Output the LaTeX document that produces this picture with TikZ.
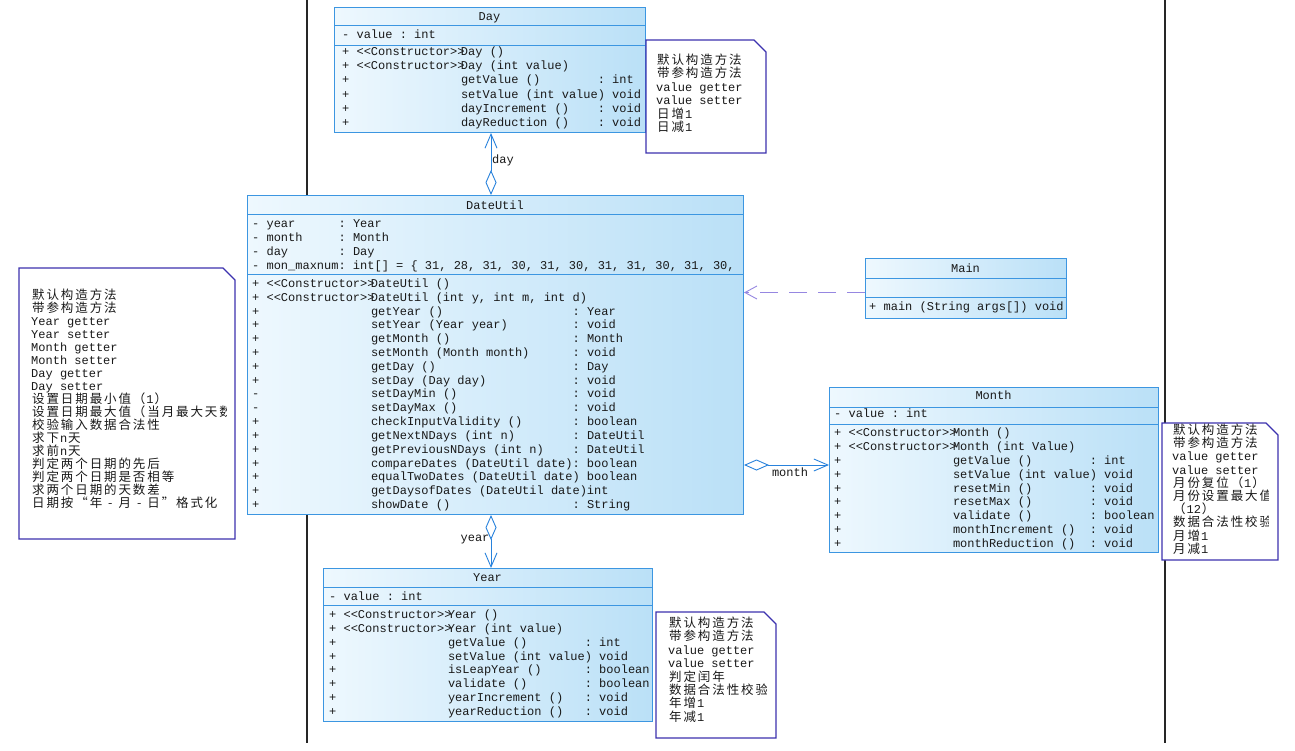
\documentclass[tikz,border=0pt]{standalone}
\usepackage{fontspec}
\setmonofont{Liberation Mono}
\newfontfamily\cjkf{Noto Sans CJK SC}
\usetikzlibrary{arrows.meta}
\definecolor{boxb}{RGB}{60,150,225}
\definecolor{conn}{RGB}{40,130,220}
\definecolor{fillL}{RGB}{238,248,254}
\definecolor{fillR}{RGB}{186,224,247}
\definecolor{noteb}{RGB}{60,50,175}
\definecolor{depc}{RGB}{150,135,225}
\definecolor{txt}{RGB}{25,25,25}
\newdimen\cw \cw=7.2pt
\newcommand\nmw{19\cw}
\newcommand\vis[1]{\hbox to 2\cw{#1\hss}}
\newcommand\ml[4]{\hbox{\vis{#1}\hbox to 14.5\cw{#2\hss}\hbox to \nmw{#3\hss}#4}}
\newcommand\al[2]{\hbox{\vis{-}\hbox to 10\cw{#1\hss}#2}}
\newcommand\cj[1]{\cjloop#1\relax}
\def\cjloop#1{\ifx#1\relax\else\hbox to 2\cw{\hss{\cjkf\fontsize{12.5}{13}\selectfont#1}\hss}\expandafter\cjloop\fi}
\newcommand\nl[1]{\hbox{#1}}
\newcommand\rows[2]{\vtop{\baselineskip=#1pt\lineskiplimit=-100pt\lineskip=0pt #2}}
\tikzset{
  cls/.style={draw=boxb, line width=1pt, left color=fillL, right color=fillR, rectangle, inner sep=0pt, anchor=north west},
  sep/.style={draw=boxb, line width=1pt},
  tx/.style={font=\ttfamily\fontsize{12}{14}\selectfont, text=txt, inner sep=0pt, anchor=base west},
  ttl/.style={font=\ttfamily\fontsize{12}{14}\selectfont, text=txt, inner sep=0pt, anchor=base},
  notebox/.style={draw=noteb, line width=1.1pt, fill=white},
  agg/.style={draw=conn, line width=0.9pt, {Diamond[open, length=25pt, width=11pt]}-{Straight Barb[length=14pt, width=12pt]}},
  dep/.style={draw=depc, line width=0.9pt, dash pattern=on 18pt off 11pt, -{Straight Barb[length=12pt, width=13pt]}},
  frameln/.style={draw=black!85, line width=1.1pt},
}
\begin{document}
\begin{tikzpicture}[x=1pt,y=-1pt]
\fill[white] (0,0) rectangle (1295,750);
\useasboundingbox (0,0) rectangle (1295,750);
\draw[frameln] (307,0) -- (307,743);
\draw[frameln] (1165,0) -- (1165,743);

% ---------- Day ----------
\node[cls, minimum width=311pt, minimum height=125pt] (day) at (334,7) {};
\draw[sep] ([yshift=-18pt]day.north west) -- ([yshift=-18pt]day.north east);
\draw[sep] ([yshift=-38pt]day.north west) -- ([yshift=-38pt]day.north east);
\node[ttl] (day-t) at (489.5,20) {Day};
\node[tx] (day-a) at (342,38.5) {\vis{-}value : int};
\node[tx] (day-m) at (342,55.5) {\rows{14.2}{%
\ml{+}{<<Constructor>>}{Day ()}{}%
\ml{+}{<<Constructor>>}{Day (int value)}{}%
\ml{+}{}{getValue ()}{: int}%
\ml{+}{}{setValue (int value)}{\hspace*{\cw} void}%
\ml{+}{}{dayIncrement ()}{: void}%
\ml{+}{}{dayReduction ()}{: void}}};

% ---------- DateUtil ----------
\node[cls, minimum width=496pt, minimum height=319pt] (dateutil) at (247,195) {};
\draw[sep] ([yshift=-19pt]dateutil.north west) -- ([yshift=-19pt]dateutil.north east);
\draw[sep] ([yshift=-79pt]dateutil.north west) -- ([yshift=-79pt]dateutil.north east);
\node[ttl] (du-t) at (495,209.5) {DateUtil};
\node[tx] (du-a) at (252,227.5) {\rows{14}{%
\al{year}{: Year}%
\al{month}{: Month}%
\al{day}{: Day}%
\al{mon\_maxnum}{: int[] = \{ 31, 28, 31, 30, 31, 30, 31, 31, 30, 31, 30,}}};
\node[tx] (du-m) at (252,287.5) {\def\nmw{28\cw}\rows{13.81}{%
\ml{+}{<<Constructor>>}{DateUtil ()}{}%
\ml{+}{<<Constructor>>}{DateUtil (int y, int m, int d)}{}%
\ml{+}{}{getYear ()}{: Year}%
\ml{+}{}{setYear (Year year)}{: void}%
\ml{+}{}{getMonth ()}{: Month}%
\ml{+}{}{setMonth (Month month)}{: void}%
\ml{+}{}{getDay ()}{: Day}%
\ml{+}{}{setDay (Day day)}{: void}%
\ml{-}{}{setDayMin ()}{: void}%
\ml{-}{}{setDayMax ()}{: void}%
\ml{+}{}{checkInputValidity ()}{: boolean}%
\ml{+}{}{getNextNDays (int n)}{: DateUtil}%
\ml{+}{}{getPreviousNDays (int n)}{: DateUtil}%
\ml{+}{}{compareDates (DateUtil date)}{: boolean}%
\ml{+}{}{equalTwoDates (DateUtil date)}{\hspace*{\cw} boolean}%
\ml{+}{}{getDaysofDates (DateUtil date)}{\hspace*{2\cw}int}%
\ml{+}{}{showDate ()}{: String}}};

% ---------- Main ----------
\node[cls, minimum width=201pt, minimum height=60pt] (main) at (865,258) {};
\draw[sep] ([yshift=-20pt]main.north west) -- ([yshift=-20pt]main.north east);
\draw[sep] ([yshift=-39pt]main.north west) -- ([yshift=-39pt]main.north east);
\node[ttl] (main-t) at (965.5,272) {Main};
\node[tx] (main-m) at (869,310) {\vis{+}main (String args[]) void};

% ---------- Month ----------
\node[cls, minimum width=329pt, minimum height=165pt] (month) at (829,387) {};
\draw[sep] ([yshift=-20pt]month.north west) -- ([yshift=-20pt]month.north east);
\draw[sep] ([yshift=-37pt]month.north west) -- ([yshift=-37pt]month.north east);
\node[ttl] (month-t) at (993.5,399.5) {Month};
\node[tx] (month-a) at (834,417.5) {\vis{-}value : int};
\node[tx] (month-m) at (834,436.5) {\rows{13.875}{%
\ml{+}{<<Constructor>>}{Month ()}{}%
\ml{+}{<<Constructor>>}{Month (int Value)}{}%
\ml{+}{}{getValue ()}{: int}%
\ml{+}{}{setValue (int value)}{\hspace*{\cw} void}%
\ml{+}{}{resetMin ()}{: void}%
\ml{+}{}{resetMax ()}{: void}%
\ml{+}{}{validate ()}{: boolean}%
\ml{+}{}{monthIncrement ()}{: void}%
\ml{+}{}{monthReduction ()}{: void}}};

% ---------- Year ----------
\node[cls, minimum width=329pt, minimum height=153pt] (year) at (323,568) {};
\draw[sep] ([yshift=-19pt]year.north west) -- ([yshift=-19pt]year.north east);
\draw[sep] ([yshift=-37pt]year.north west) -- ([yshift=-37pt]year.north east);
\node[ttl] (year-t) at (487.5,581.5) {Year};
\node[tx] (year-a) at (329,600) {\vis{-}value : int};
\node[tx] (year-m) at (329,618.5) {\rows{13.86}{%
\ml{+}{<<Constructor>>}{Year ()}{}%
\ml{+}{<<Constructor>>}{Year (int value)}{}%
\ml{+}{}{getValue ()}{: int}%
\ml{+}{}{setValue (int value)}{\hspace*{\cw} void}%
\ml{+}{}{isLeapYear ()}{: boolean}%
\ml{+}{}{validate ()}{: boolean}%
\ml{+}{}{yearIncrement ()}{: void}%
\ml{+}{}{yearReduction ()}{: void}}};

% ---------- Notes ----------
\draw[notebox] (646,40) -- (754,40) -- (766,52) -- (766,153) -- (646,153) -- cycle;
\node[tx] (daynote) at (656,64.5) {\rows{13.4}{%
\nl{\cj{默认构造方法}}\nl{\cj{带参构造方法}}\nl{value getter}\nl{value setter}%
\nl{\cj{日增}1}\nl{\cj{日减}1}}};

\draw[notebox] (19,268) -- (223,268) -- (235,280) -- (235,539) -- (19,539) -- cycle;
\begin{scope}
\clip (19,262) rectangle (226,545);
\node[tx] (dunote) at (31,299) {\rows{13.0}{%
\nl{\cj{默认构造方法}}\nl{\cj{带参构造方法}}%
\nl{Year getter}\nl{Year setter}\nl{Month getter}\nl{Month setter}\nl{Day getter}\nl{Day setter}%
\nl{\cj{设置日期最小值（}1\cj{）}}%
\nl{\cj{设置日期最大值（当月最大天数）}}%
\nl{\cj{校验输入数据合法性}}%
\nl{\cj{求下}n\cj{天}}\nl{\cj{求前}n\cj{天}}%
\nl{\cj{判定两个日期的先后}}\nl{\cj{判定两个日期是否相等}}\nl{\cj{求两个日期的天数差}}%
\nl{\cj{日期按“年-月-日”格式化}}}};
\end{scope}

\draw[notebox] (1162,423) -- (1266,423) -- (1278,435) -- (1278,560) -- (1162,560) -- cycle;
\begin{scope}
\clip (1162,415) rectangle (1268,565);
\node[tx] (monthnote) at (1172,434.5) {\rows{13.2}{%
\nl{\cj{默认构造方法}}\nl{\cj{带参构造方法}}\nl{value getter}\nl{value setter}%
\nl{\cj{月份复位（}1\cj{）}}\nl{\cj{月份设置最大值}}\nl{\cj{（}12\cj{）}}%
\nl{\cj{数据合法性校验}}\nl{\cj{月增}1}\nl{\cj{月减}1}}};
\end{scope}

\draw[notebox] (656,612) -- (764,612) -- (776,624) -- (776,738) -- (656,738) -- cycle;
\begin{scope}
\clip (656,605) rectangle (766,745);
\node[tx] (yearnote) at (668,627.5) {\rows{13.4}{%
\nl{\cj{默认构造方法}}\nl{\cj{带参构造方法}}\nl{value getter}\nl{value setter}%
\nl{\cj{判定闰年}}\nl{\cj{数据合法性校验}}\nl{\cj{年增}1}\nl{\cj{年减}1}}};
\end{scope}

% ---------- Connectors ----------
\coordinate (dx) at (491,0);
\draw[agg] (dx |- dateutil.north) -- (dx |- day.south);
\node[ttl] (lday) at (503,163) {day};
\draw[agg] (dx |- dateutil.south) -- (dx |- year.north);
\node[ttl] (lyear) at (475,541.5) {year};
\coordinate (my) at (0,465);
\draw[agg] (dateutil.east |- my) -- (month.west |- my);
\node[ttl] (lmonth) at (790,476.5) {month};
\coordinate (mw) at ([yshift=-4pt]main.west);
\draw[dep] (mw) -- (mw -| dateutil.east);
\end{tikzpicture}
\end{document}
